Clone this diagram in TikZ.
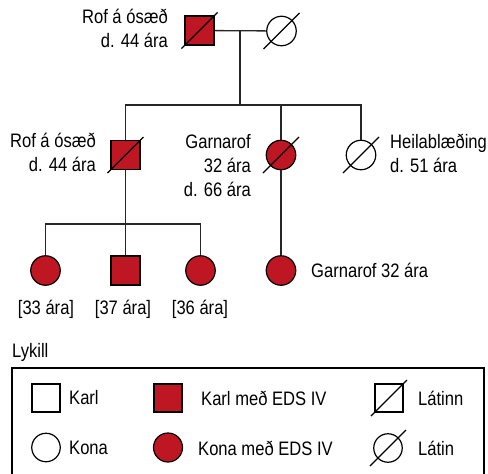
\documentclass[tikz,border=0pt]{standalone}
\usepackage{fontspec}
\setmainfont{Liberation Sans}[FakeStretch=0.85]
\definecolor{edsred}{RGB}{190,22,34}
% strikes a person through, lower left to upper right
\newcommand{\latinn}[1]{\draw[dline] ([shift={(-18,18)}]#1.center) -- ([shift={(18,-18)}]#1.center);}

\begin{document}
\begin{tikzpicture}[x=1pt,y=-1pt,
  karl/.style={draw,rectangle,line width=1.2pt,minimum size=29pt,inner sep=0pt},
  kona/.style={draw,circle,line width=1.2pt,minimum size=29.5pt,inner sep=0pt},
  eds/.style={fill=edsred},
  tengi/.style={line width=1.3pt,draw=black!85},
  dline/.style={line width=1.1pt},
  txt/.style={inner sep=0pt,font=\fontsize{19.5}{24}\selectfont}]
\useasboundingbox (0,0) rectangle (488,474);

% first generation
\node[karl,eds] (A1) at (199.5,30.5) {};
\node[kona] (A2) at (281.5,31) {};
\latinn{A1}
\latinn{A2}
\coordinate (m1) at (240,31);
\coordinate (s1) at (240,105);

% second generation
\node[karl,eds] (B1) at (125.5,155) {};
\node[kona,eds] (B2) at (281,155) {};
\node[kona] (B3) at (361,155) {};
\latinn{B1}
\latinn{B2}
\latinn{B3}
\coordinate (s2) at (125.5,224);

% third generation
\node[kona,eds] (C1) at (45.5,270.5) {};
\node[karl,eds] (C2) at (125.5,270.5) {};
\node[kona,eds] (C3) at (200.5,270.5) {};
\node[kona,eds] (C4) at (281,270.5) {};

% lines
\draw[tengi] (A1) -- (A2);
\draw[tengi] (m1) -- (s1);
\draw[tengi] (B1) -- (B1 |- s1) -- (B3 |- s1) -- (B3);
\draw[tengi] (B2) -- (B2 |- s1);
\draw[tengi] (C1) -- (C1 |- s2) -- (C3 |- s2) -- (C3);
\draw[tengi] (B1) -- (C2);
\draw[tengi] (B2) -- (C4);

% labels
\node[txt,anchor=north east,align=right] (tA1) at (168,9) {Rof á ósæð\\d. 44 ára};
\node[txt,anchor=north east,align=right] (tB1) at (96,133) {Rof á ósæð\\d. 44 ára};
\node[txt,anchor=north east,align=right] (tB2) at (251,134) {Garnarof\\32 ára\\d. 66 ára};
\node[txt,anchor=north west,align=left] (tB3) at (390,134) {Heilablæðing\\d. 51 ára};
\node[txt,anchor=west] (tC4) at (311,270.5) {Garnarof 32 ára};
\node[txt] (tC1) at (46,309) {[33 ára]};
\node[txt] (tC2) at (123,309) {[37 ára]};
\node[txt] (tC3) at (200,309) {[36 ára]};

% key
\node[txt,anchor=west] (lykill) at (12,352) {Lykill};
\draw[line width=1.2pt] (12,480) -- (12,368) -- (484,368) -- (484,480);
\node[karl,minimum size=28pt] (k1) at (46,398) {};
\node[karl,eds,minimum size=28pt] (k2) at (168,398) {};
\node[karl,minimum size=28pt] (k3) at (389,398) {};
\latinn{k3}
\node[kona,minimum size=28.5pt] (k4) at (46,447.5) {};
\node[kona,eds,minimum size=29pt] (k5) at (168,447.5) {};
\node[kona,minimum size=28.5pt] (k6) at (388,448) {};
\latinn{k6}
\node[txt,anchor=west] (tk1) at (69,398) {Karl};
\node[txt,anchor=west] (tk2) at (201,398) {Karl með EDS IV};
\node[txt,anchor=west] (tk3) at (418,398) {Látinn};
\node[txt,anchor=west] (tk4) at (69,448) {Kona};
\node[txt,anchor=west] (tk5) at (198,448) {Kona með EDS IV};
\node[txt,anchor=west] (tk6) at (418,448) {Látin};
\end{tikzpicture}
\end{document}
